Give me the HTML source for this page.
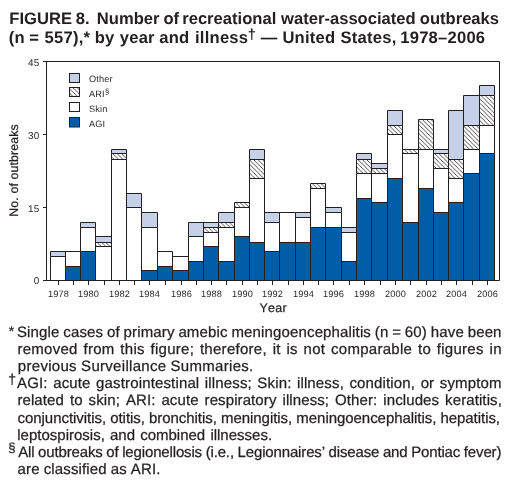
<!DOCTYPE html>
<html><head><meta charset="utf-8"><style>
html,body{margin:0;padding:0;background:#fff;}
body{width:514px;height:489px;overflow:hidden;}
svg{display:block;font-family:"Liberation Sans",sans-serif;font-kerning:none;will-change:transform;}
text{font-kerning:none;text-rendering:geometricPrecision;} .fn text{stroke:#231F20;stroke-width:0.25px;}
</style></head><body>
<svg width="514" height="489" viewBox="0 0 514 489">
<defs>
<pattern id="hatch" patternUnits="userSpaceOnUse" x="2.65" y="0" width="4.35" height="4.35">
<rect width="4.35" height="4.35" fill="#fff"/>
<path d="M-1,-1L5.35,5.35M-1,3.35L1,5.35M3.35,-1L5.35,1" stroke="#231F20" stroke-width="0.8"/>
</pattern>
</defs>
<rect width="514" height="489" fill="#fff"/>
<rect x="50.5" y="256.5" width="15.0" height="24.0" fill="#ffffff"/>
<rect x="50.5" y="251.5" width="15.0" height="5.0" fill="#C6D1E8"/>
<rect x="65.5" y="266.5" width="15.0" height="14.0" fill="#005EA8"/>
<rect x="65.5" y="251.5" width="15.0" height="15.0" fill="#ffffff"/>
<rect x="80.5" y="251.5" width="15.0" height="29.0" fill="#005EA8"/>
<rect x="80.5" y="227.5" width="15.0" height="24.0" fill="#ffffff"/>
<rect x="80.5" y="222.5" width="15.0" height="5.0" fill="#C6D1E8"/>
<rect x="95.5" y="246.5" width="16.0" height="34.0" fill="#ffffff"/>
<rect x="95.5" y="242.5" width="16.0" height="4.0" fill="url(#hatch)"/>
<rect x="95.5" y="236.5" width="16.0" height="6.0" fill="#C6D1E8"/>
<rect x="111.5" y="159.5" width="15.0" height="121.0" fill="#ffffff"/>
<rect x="111.5" y="153.5" width="15.0" height="6.0" fill="url(#hatch)"/>
<rect x="111.5" y="149.5" width="15.0" height="4.0" fill="#C6D1E8"/>
<rect x="126.5" y="207.5" width="15.0" height="73.0" fill="#ffffff"/>
<rect x="126.5" y="193.5" width="15.0" height="14.0" fill="#C6D1E8"/>
<rect x="141.5" y="270.5" width="16.0" height="10.0" fill="#005EA8"/>
<rect x="141.5" y="227.5" width="16.0" height="43.0" fill="#ffffff"/>
<rect x="141.5" y="212.5" width="16.0" height="15.0" fill="#C6D1E8"/>
<rect x="157.5" y="266.5" width="15.0" height="14.0" fill="#005EA8"/>
<rect x="157.5" y="251.5" width="15.0" height="15.0" fill="#ffffff"/>
<rect x="172.5" y="270.5" width="16.0" height="10.0" fill="#005EA8"/>
<rect x="172.5" y="256.5" width="16.0" height="14.0" fill="#ffffff"/>
<rect x="188.5" y="261.5" width="15.0" height="19.0" fill="#005EA8"/>
<rect x="188.5" y="236.5" width="15.0" height="25.0" fill="#ffffff"/>
<rect x="188.5" y="222.5" width="15.0" height="14.0" fill="#C6D1E8"/>
<rect x="203.5" y="246.5" width="15.0" height="34.0" fill="#005EA8"/>
<rect x="203.5" y="232.5" width="15.0" height="14.0" fill="#ffffff"/>
<rect x="203.5" y="227.5" width="15.0" height="5.0" fill="url(#hatch)"/>
<rect x="203.5" y="222.5" width="15.0" height="5.0" fill="#C6D1E8"/>
<rect x="218.5" y="261.5" width="16.0" height="19.0" fill="#005EA8"/>
<rect x="218.5" y="227.5" width="16.0" height="34.0" fill="#ffffff"/>
<rect x="218.5" y="222.5" width="16.0" height="5.0" fill="url(#hatch)"/>
<rect x="218.5" y="212.5" width="16.0" height="10.0" fill="#C6D1E8"/>
<rect x="234.5" y="236.5" width="15.0" height="44.0" fill="#005EA8"/>
<rect x="234.5" y="207.5" width="15.0" height="29.0" fill="#ffffff"/>
<rect x="234.5" y="202.5" width="15.0" height="5.0" fill="url(#hatch)"/>
<rect x="249.5" y="242.5" width="15.0" height="38.0" fill="#005EA8"/>
<rect x="249.5" y="178.5" width="15.0" height="64.0" fill="#ffffff"/>
<rect x="249.5" y="159.5" width="15.0" height="19.0" fill="url(#hatch)"/>
<rect x="249.5" y="149.5" width="15.0" height="10.0" fill="#C6D1E8"/>
<rect x="264.5" y="251.5" width="15.0" height="29.0" fill="#005EA8"/>
<rect x="264.5" y="222.5" width="15.0" height="29.0" fill="#ffffff"/>
<rect x="264.5" y="212.5" width="15.0" height="10.0" fill="#C6D1E8"/>
<rect x="279.5" y="242.5" width="16.0" height="38.0" fill="#005EA8"/>
<rect x="279.5" y="212.5" width="16.0" height="30.0" fill="#ffffff"/>
<rect x="295.5" y="242.5" width="15.0" height="38.0" fill="#005EA8"/>
<rect x="295.5" y="217.5" width="15.0" height="25.0" fill="#ffffff"/>
<rect x="295.5" y="212.5" width="15.0" height="5.0" fill="#C6D1E8"/>
<rect x="310.5" y="227.5" width="15.0" height="53.0" fill="#005EA8"/>
<rect x="310.5" y="188.5" width="15.0" height="39.0" fill="#ffffff"/>
<rect x="310.5" y="183.5" width="15.0" height="5.0" fill="url(#hatch)"/>
<rect x="325.5" y="227.5" width="16.0" height="53.0" fill="#005EA8"/>
<rect x="325.5" y="212.5" width="16.0" height="15.0" fill="#ffffff"/>
<rect x="325.5" y="207.5" width="16.0" height="5.0" fill="#C6D1E8"/>
<rect x="341.5" y="261.5" width="15.0" height="19.0" fill="#005EA8"/>
<rect x="341.5" y="232.5" width="15.0" height="29.0" fill="#ffffff"/>
<rect x="341.5" y="227.5" width="15.0" height="5.0" fill="#C6D1E8"/>
<rect x="356.5" y="198.5" width="15.0" height="82.0" fill="#005EA8"/>
<rect x="356.5" y="173.5" width="15.0" height="25.0" fill="#ffffff"/>
<rect x="356.5" y="159.5" width="15.0" height="14.0" fill="url(#hatch)"/>
<rect x="356.5" y="153.5" width="15.0" height="6.0" fill="#C6D1E8"/>
<rect x="371.5" y="202.5" width="16.0" height="78.0" fill="#005EA8"/>
<rect x="371.5" y="173.5" width="16.0" height="29.0" fill="#ffffff"/>
<rect x="371.5" y="168.5" width="16.0" height="5.0" fill="url(#hatch)"/>
<rect x="371.5" y="163.5" width="16.0" height="5.0" fill="#C6D1E8"/>
<rect x="387.5" y="178.5" width="15.0" height="102.0" fill="#005EA8"/>
<rect x="387.5" y="134.5" width="15.0" height="44.0" fill="#ffffff"/>
<rect x="387.5" y="125.5" width="15.0" height="9.0" fill="url(#hatch)"/>
<rect x="387.5" y="110.5" width="15.0" height="15.0" fill="#C6D1E8"/>
<rect x="402.5" y="222.5" width="16.0" height="58.0" fill="#005EA8"/>
<rect x="402.5" y="153.5" width="16.0" height="69.0" fill="#ffffff"/>
<rect x="402.5" y="149.5" width="16.0" height="4.0" fill="url(#hatch)"/>
<rect x="418.5" y="188.5" width="15.0" height="92.0" fill="#005EA8"/>
<rect x="418.5" y="149.5" width="15.0" height="39.0" fill="#ffffff"/>
<rect x="418.5" y="119.5" width="15.0" height="30.0" fill="url(#hatch)"/>
<rect x="433.5" y="212.5" width="15.0" height="68.0" fill="#005EA8"/>
<rect x="433.5" y="168.5" width="15.0" height="44.0" fill="#ffffff"/>
<rect x="433.5" y="153.5" width="15.0" height="15.0" fill="url(#hatch)"/>
<rect x="433.5" y="149.5" width="15.0" height="4.0" fill="#C6D1E8"/>
<rect x="448.5" y="202.5" width="15.0" height="78.0" fill="#005EA8"/>
<rect x="448.5" y="178.5" width="15.0" height="24.0" fill="#ffffff"/>
<rect x="448.5" y="159.5" width="15.0" height="19.0" fill="url(#hatch)"/>
<rect x="448.5" y="110.5" width="15.0" height="49.0" fill="#C6D1E8"/>
<rect x="463.5" y="173.5" width="16.0" height="107.0" fill="#005EA8"/>
<rect x="463.5" y="149.5" width="16.0" height="24.0" fill="#ffffff"/>
<rect x="463.5" y="125.5" width="16.0" height="24.0" fill="url(#hatch)"/>
<rect x="463.5" y="95.5" width="16.0" height="30.0" fill="#C6D1E8"/>
<rect x="479.5" y="153.5" width="15.0" height="127.0" fill="#005EA8"/>
<rect x="479.5" y="125.5" width="15.0" height="28.0" fill="#ffffff"/>
<rect x="479.5" y="95.5" width="15.0" height="30.0" fill="url(#hatch)"/>
<rect x="479.5" y="85.5" width="15.0" height="10.0" fill="#C6D1E8"/>
<g fill="none" stroke="#231F20" stroke-width="1"><path d="M50.5,280.5V256.5H65.5V280.5"/><path d="M50.5,256.5V251.5H65.5V256.5"/><path d="M65.5,280.5V266.5H80.5V280.5"/><path d="M65.5,266.5V251.5H80.5V266.5"/><path d="M80.5,280.5V251.5H95.5V280.5"/><path d="M80.5,251.5V227.5H95.5V251.5"/><path d="M80.5,227.5V222.5H95.5V227.5"/><path d="M95.5,280.5V246.5H111.5V280.5"/><path d="M95.5,246.5V242.5H111.5V246.5"/><path d="M95.5,242.5V236.5H111.5V242.5"/><path d="M111.5,280.5V159.5H126.5V280.5"/><path d="M111.5,159.5V153.5H126.5V159.5"/><path d="M111.5,153.5V149.5H126.5V153.5"/><path d="M126.5,280.5V207.5H141.5V280.5"/><path d="M126.5,207.5V193.5H141.5V207.5"/><path d="M141.5,280.5V270.5H157.5V280.5"/><path d="M141.5,270.5V227.5H157.5V270.5"/><path d="M141.5,227.5V212.5H157.5V227.5"/><path d="M157.5,280.5V266.5H172.5V280.5"/><path d="M157.5,266.5V251.5H172.5V266.5"/><path d="M172.5,280.5V270.5H188.5V280.5"/><path d="M172.5,270.5V256.5H188.5V270.5"/><path d="M188.5,280.5V261.5H203.5V280.5"/><path d="M188.5,261.5V236.5H203.5V261.5"/><path d="M188.5,236.5V222.5H203.5V236.5"/><path d="M203.5,280.5V246.5H218.5V280.5"/><path d="M203.5,246.5V232.5H218.5V246.5"/><path d="M203.5,232.5V227.5H218.5V232.5"/><path d="M203.5,227.5V222.5H218.5V227.5"/><path d="M218.5,280.5V261.5H234.5V280.5"/><path d="M218.5,261.5V227.5H234.5V261.5"/><path d="M218.5,227.5V222.5H234.5V227.5"/><path d="M218.5,222.5V212.5H234.5V222.5"/><path d="M234.5,280.5V236.5H249.5V280.5"/><path d="M234.5,236.5V207.5H249.5V236.5"/><path d="M234.5,207.5V202.5H249.5V207.5"/><path d="M249.5,280.5V242.5H264.5V280.5"/><path d="M249.5,242.5V178.5H264.5V242.5"/><path d="M249.5,178.5V159.5H264.5V178.5"/><path d="M249.5,159.5V149.5H264.5V159.5"/><path d="M264.5,280.5V251.5H279.5V280.5"/><path d="M264.5,251.5V222.5H279.5V251.5"/><path d="M264.5,222.5V212.5H279.5V222.5"/><path d="M279.5,280.5V242.5H295.5V280.5"/><path d="M279.5,242.5V212.5H295.5V242.5"/><path d="M295.5,280.5V242.5H310.5V280.5"/><path d="M295.5,242.5V217.5H310.5V242.5"/><path d="M295.5,217.5V212.5H310.5V217.5"/><path d="M310.5,280.5V227.5H325.5V280.5"/><path d="M310.5,227.5V188.5H325.5V227.5"/><path d="M310.5,188.5V183.5H325.5V188.5"/><path d="M325.5,280.5V227.5H341.5V280.5"/><path d="M325.5,227.5V212.5H341.5V227.5"/><path d="M325.5,212.5V207.5H341.5V212.5"/><path d="M341.5,280.5V261.5H356.5V280.5"/><path d="M341.5,261.5V232.5H356.5V261.5"/><path d="M341.5,232.5V227.5H356.5V232.5"/><path d="M356.5,280.5V198.5H371.5V280.5"/><path d="M356.5,198.5V173.5H371.5V198.5"/><path d="M356.5,173.5V159.5H371.5V173.5"/><path d="M356.5,159.5V153.5H371.5V159.5"/><path d="M371.5,280.5V202.5H387.5V280.5"/><path d="M371.5,202.5V173.5H387.5V202.5"/><path d="M371.5,173.5V168.5H387.5V173.5"/><path d="M371.5,168.5V163.5H387.5V168.5"/><path d="M387.5,280.5V178.5H402.5V280.5"/><path d="M387.5,178.5V134.5H402.5V178.5"/><path d="M387.5,134.5V125.5H402.5V134.5"/><path d="M387.5,125.5V110.5H402.5V125.5"/><path d="M402.5,280.5V222.5H418.5V280.5"/><path d="M402.5,222.5V153.5H418.5V222.5"/><path d="M402.5,153.5V149.5H418.5V153.5"/><path d="M418.5,280.5V188.5H433.5V280.5"/><path d="M418.5,188.5V149.5H433.5V188.5"/><path d="M418.5,149.5V119.5H433.5V149.5"/><path d="M433.5,280.5V212.5H448.5V280.5"/><path d="M433.5,212.5V168.5H448.5V212.5"/><path d="M433.5,168.5V153.5H448.5V168.5"/><path d="M433.5,153.5V149.5H448.5V153.5"/><path d="M448.5,280.5V202.5H463.5V280.5"/><path d="M448.5,202.5V178.5H463.5V202.5"/><path d="M448.5,178.5V159.5H463.5V178.5"/><path d="M448.5,159.5V110.5H463.5V159.5"/><path d="M463.5,280.5V173.5H479.5V280.5"/><path d="M463.5,173.5V149.5H479.5V173.5"/><path d="M463.5,149.5V125.5H479.5V149.5"/><path d="M463.5,125.5V95.5H479.5V125.5"/><path d="M479.5,280.5V153.5H494.5V280.5"/><path d="M479.5,153.5V125.5H494.5V153.5"/><path d="M479.5,125.5V95.5H494.5V125.5"/><path d="M479.5,95.5V85.5H494.5V95.5"/></g>
<g fill="none" stroke="#231F20" stroke-width="1"><path d="M46.5,61.5H499.5V280.5H43"/><path d="M46.5,61V281"/><path d="M58.5,280.5V285"/><path d="M73.5,280.5V285"/><path d="M88.5,280.5V285"/><path d="M104.5,280.5V285"/><path d="M119.5,280.5V285"/><path d="M134.5,280.5V285"/><path d="M149.5,280.5V285"/><path d="M165.5,280.5V285"/><path d="M181.5,280.5V285"/><path d="M196.5,280.5V285"/><path d="M211.5,280.5V285"/><path d="M226.5,280.5V285"/><path d="M242.5,280.5V285"/><path d="M257.5,280.5V285"/><path d="M272.5,280.5V285"/><path d="M288.5,280.5V285"/><path d="M303.5,280.5V285"/><path d="M318.5,280.5V285"/><path d="M333.5,280.5V285"/><path d="M349.5,280.5V285"/><path d="M364.5,280.5V285"/><path d="M380.5,280.5V285"/><path d="M395.5,280.5V285"/><path d="M410.5,280.5V285"/><path d="M426.5,280.5V285"/><path d="M441.5,280.5V285"/><path d="M456.5,280.5V285"/><path d="M472.5,280.5V285"/><path d="M487.5,280.5V285"/><path d="M43,207.5H46.5"/><path d="M43,134.5H46.5"/><path d="M43,61.5H46.5"/></g>
<text x="58.60" y="296.90" style="font-size:9.2px;letter-spacing:0.15px;" text-anchor="middle" fill="#231F20">1978</text>
<text x="88.60" y="296.90" style="font-size:9.2px;letter-spacing:0.15px;" text-anchor="middle" fill="#231F20">1980</text>
<text x="119.60" y="296.90" style="font-size:9.2px;letter-spacing:0.15px;" text-anchor="middle" fill="#231F20">1982</text>
<text x="149.60" y="296.90" style="font-size:9.2px;letter-spacing:0.15px;" text-anchor="middle" fill="#231F20">1984</text>
<text x="181.60" y="296.90" style="font-size:9.2px;letter-spacing:0.15px;" text-anchor="middle" fill="#231F20">1986</text>
<text x="211.60" y="296.90" style="font-size:9.2px;letter-spacing:0.15px;" text-anchor="middle" fill="#231F20">1988</text>
<text x="242.60" y="296.90" style="font-size:9.2px;letter-spacing:0.15px;" text-anchor="middle" fill="#231F20">1990</text>
<text x="272.60" y="296.90" style="font-size:9.2px;letter-spacing:0.15px;" text-anchor="middle" fill="#231F20">1992</text>
<text x="303.60" y="296.90" style="font-size:9.2px;letter-spacing:0.15px;" text-anchor="middle" fill="#231F20">1994</text>
<text x="333.60" y="296.90" style="font-size:9.2px;letter-spacing:0.15px;" text-anchor="middle" fill="#231F20">1996</text>
<text x="364.60" y="296.90" style="font-size:9.2px;letter-spacing:0.15px;" text-anchor="middle" fill="#231F20">1998</text>
<text x="395.60" y="296.90" style="font-size:9.2px;letter-spacing:0.15px;" text-anchor="middle" fill="#231F20">2000</text>
<text x="426.60" y="296.90" style="font-size:9.2px;letter-spacing:0.15px;" text-anchor="middle" fill="#231F20">2002</text>
<text x="456.60" y="296.90" style="font-size:9.2px;letter-spacing:0.15px;" text-anchor="middle" fill="#231F20">2004</text>
<text x="487.60" y="296.90" style="font-size:9.2px;letter-spacing:0.15px;" text-anchor="middle" fill="#231F20">2006</text>
<text x="39.60" y="283.60" style="font-size:9.9px;letter-spacing:0.3px;" text-anchor="end" fill="#231F20">0</text>
<text x="39.60" y="211.60" style="font-size:9.9px;letter-spacing:0.3px;" text-anchor="end" fill="#231F20">15</text>
<text x="39.60" y="138.60" style="font-size:9.9px;letter-spacing:0.3px;" text-anchor="end" fill="#231F20">30</text>
<text x="39.60" y="65.60" style="font-size:9.9px;letter-spacing:0.3px;" text-anchor="end" fill="#231F20">45</text>
<g class="fn"><text x="273.30" y="311.80" style="font-size:12.4px;letter-spacing:0.35px;" text-anchor="middle" fill="#231F20">Year</text><text transform="translate(18.3,170.4) rotate(-90)" text-anchor="middle" style="font-size:12.3px;letter-spacing:0.15px" fill="#231F20">No. of outbreaks</text></g>
<g stroke="#231F20" stroke-width="1">
<rect x="69.5" y="73.5" width="10" height="9" fill="#C6D1E8"/>
<rect x="69.5" y="87.5" width="10" height="9" fill="url(#hatch)"/>
<rect x="69.5" y="102.5" width="10" height="9" fill="#fff"/>
<rect x="69.5" y="117.5" width="10" height="9.5" fill="#005EA8"/>
</g>
<text x="89.00" y="82.40" style="font-size:9.2px;letter-spacing:0.15px;" fill="#231F20">Other</text>
<text x="89" y="97.2" style="font-size:9.2px;letter-spacing:0.15px" fill="#231F20">ARI<tspan dx="0.3" dy="-3.6" style="font-size:7.5px">§</tspan></text>
<text x="89.00" y="111.90" style="font-size:9.2px;letter-spacing:0.15px;" fill="#231F20">Skin</text>
<text x="89.00" y="126.70" style="font-size:9.2px;letter-spacing:0.15px;" fill="#231F20">AGI</text>
<g class="tl"><text x="9.29" y="23.80" style="font-size:16.6px;font-weight:bold;" fill="#231F20">FIGURE</text><text x="75.77" y="23.80" style="font-size:16.6px;font-weight:bold;" fill="#231F20">8.</text><text x="96.79" y="23.80" style="font-size:16.6px;font-weight:bold;" fill="#231F20">Number</text><text x="163.45" y="23.80" style="font-size:16.6px;font-weight:bold;" fill="#231F20">of</text><text x="182.21" y="23.80" style="font-size:16.6px;font-weight:bold;" fill="#231F20">recreational</text><text x="281.05" y="23.80" style="font-size:16.6px;font-weight:bold;" fill="#231F20">water-associated</text><text x="419.75" y="23.80" style="font-size:16.6px;font-weight:bold;" fill="#231F20">outbreaks</text><text x="8.87" y="42.70" style="font-size:16.6px;font-weight:bold;letter-spacing:0.22px;" fill="#231F20">(n</text><text x="29.31" y="42.70" style="font-size:16.6px;font-weight:bold;letter-spacing:0.22px;" fill="#231F20">=</text><text x="44.59" y="42.70" style="font-size:16.6px;font-weight:bold;letter-spacing:0.22px;" fill="#231F20">557),*</text><text x="94.71" y="42.70" style="font-size:16.6px;font-weight:bold;letter-spacing:0.22px;" fill="#231F20">by</text><text x="119.77" y="42.70" style="font-size:16.6px;font-weight:bold;letter-spacing:0.22px;" fill="#231F20">year</text><text x="159.31" y="42.70" style="font-size:16.6px;font-weight:bold;letter-spacing:0.22px;" fill="#231F20">and</text><text x="195.04" y="42.70" style="font-size:16.6px;font-weight:bold;letter-spacing:0.22px;" fill="#231F20">illness</text><text x="260.80" y="42.70" style="font-size:16.6px;font-weight:bold;letter-spacing:0.22px;" fill="#231F20">—</text><text x="282.40" y="42.70" style="font-size:16.6px;font-weight:bold;letter-spacing:0.22px;" fill="#231F20">United</text><text x="340.52" y="42.70" style="font-size:16.6px;font-weight:bold;letter-spacing:0.22px;" fill="#231F20">States,</text><text x="400.25" y="42.70" style="font-size:16.6px;font-weight:bold;letter-spacing:0.22px;" fill="#231F20">1978–2006</text><text x="247.70" y="38.80" style="font-size:14.5px;font-weight:bold;" fill="#231F20">†</text></g>
<g class="fn"><text x="16.92" y="336.80" style="font-size:15.0px;letter-spacing:0.15px;" fill="#231F20">Single</text><text x="63.28" y="336.80" style="font-size:15.0px;letter-spacing:0.15px;" fill="#231F20">cases</text><text x="106.99" y="336.80" style="font-size:15.0px;letter-spacing:0.15px;" fill="#231F20">of</text><text x="123.56" y="336.80" style="font-size:15.0px;letter-spacing:0.15px;" fill="#231F20">primary</text><text x="178.38" y="336.80" style="font-size:15.0px;letter-spacing:0.15px;" fill="#231F20">amebic</text><text x="231.41" y="336.80" style="font-size:15.0px;letter-spacing:0.15px;" fill="#231F20">meningoencephalitis</text><text x="374.78" y="336.80" style="font-size:15.0px;letter-spacing:0.15px;" fill="#231F20">(n</text><text x="392.19" y="336.80" style="font-size:15.0px;letter-spacing:0.15px;" fill="#231F20">=</text><text x="404.86" y="336.80" style="font-size:15.0px;letter-spacing:0.15px;" fill="#231F20">60)</text><text x="430.76" y="336.80" style="font-size:15.0px;letter-spacing:0.15px;" fill="#231F20">have</text><text x="467.65" y="336.80" style="font-size:15.0px;letter-spacing:0.15px;" fill="#231F20">been</text><text x="17.40" y="353.80" style="font-size:15.0px;letter-spacing:0.28px;" fill="#231F20">removed</text><text x="83.47" y="353.80" style="font-size:15.0px;letter-spacing:0.28px;" fill="#231F20">from</text><text x="120.33" y="353.80" style="font-size:15.0px;letter-spacing:0.28px;" fill="#231F20">this</text><text x="150.54" y="353.80" style="font-size:15.0px;letter-spacing:0.28px;" fill="#231F20">figure;</text><text x="199.93" y="353.80" style="font-size:15.0px;letter-spacing:0.28px;" fill="#231F20">therefore,</text><text x="272.68" y="353.80" style="font-size:15.0px;letter-spacing:0.28px;" fill="#231F20">it</text><text x="286.48" y="353.80" style="font-size:15.0px;letter-spacing:0.28px;" fill="#231F20">is</text><text x="303.62" y="353.80" style="font-size:15.0px;letter-spacing:0.28px;" fill="#231F20">not</text><text x="331.06" y="353.80" style="font-size:15.0px;letter-spacing:0.28px;" fill="#231F20">comparable</text><text x="417.98" y="353.80" style="font-size:15.0px;letter-spacing:0.28px;" fill="#231F20">to</text><text x="436.79" y="353.80" style="font-size:15.0px;letter-spacing:0.28px;" fill="#231F20">figures</text><text x="489.52" y="353.80" style="font-size:15.0px;letter-spacing:0.28px;" fill="#231F20">in</text><text x="17.83" y="370.80" style="font-size:15.0px;letter-spacing:0.3px;" fill="#231F20">previous</text><text x="81.09" y="370.80" style="font-size:15.0px;letter-spacing:0.3px;" fill="#231F20">Surveillance</text><text x="170.55" y="370.80" style="font-size:15.0px;letter-spacing:0.3px;" fill="#231F20">Summaries.</text><text x="17.07" y="387.80" style="font-size:15.0px;letter-spacing:0.15px;" fill="#231F20">AGI:</text><text x="53.15" y="387.80" style="font-size:15.0px;letter-spacing:0.15px;" fill="#231F20">acute</text><text x="96.07" y="387.80" style="font-size:15.0px;letter-spacing:0.15px;" fill="#231F20">gastrointestinal</text><text x="204.83" y="387.80" style="font-size:15.0px;letter-spacing:0.15px;" fill="#231F20">illness;</text><text x="257.36" y="387.80" style="font-size:15.0px;letter-spacing:0.15px;" fill="#231F20">Skin:</text><text x="296.93" y="387.80" style="font-size:15.0px;letter-spacing:0.15px;" fill="#231F20">illness,</text><text x="349.45" y="387.80" style="font-size:15.0px;letter-spacing:0.15px;" fill="#231F20">condition,</text><text x="420.64" y="387.80" style="font-size:15.0px;letter-spacing:0.15px;" fill="#231F20">or</text><text x="439.75" y="387.80" style="font-size:15.0px;letter-spacing:0.15px;" fill="#231F20">symptom</text><text x="17.40" y="404.80" style="font-size:15.0px;letter-spacing:0.1px;" fill="#231F20">related</text><text x="69.92" y="404.80" style="font-size:15.0px;letter-spacing:0.1px;" fill="#231F20">to</text><text x="88.59" y="404.80" style="font-size:15.0px;letter-spacing:0.1px;" fill="#231F20">skin;</text><text x="125.88" y="404.80" style="font-size:15.0px;letter-spacing:0.1px;" fill="#231F20">ARI:</text><text x="161.41" y="404.80" style="font-size:15.0px;letter-spacing:0.1px;" fill="#231F20">acute</text><text x="204.56" y="404.80" style="font-size:15.0px;letter-spacing:0.1px;" fill="#231F20">respiratory</text><text x="282.47" y="404.80" style="font-size:15.0px;letter-spacing:0.1px;" fill="#231F20">illness;</text><text x="335.07" y="404.80" style="font-size:15.0px;letter-spacing:0.1px;" fill="#231F20">Other:</text><text x="383.31" y="404.80" style="font-size:15.0px;letter-spacing:0.1px;" fill="#231F20">includes</text><text x="445.10" y="404.80" style="font-size:15.0px;letter-spacing:0.1px;" fill="#231F20">keratitis,</text><text x="17.56" y="422.80" style="font-size:15.0px;letter-spacing:-0.05px;" fill="#231F20">conjunctivitis,</text><text x="110.19" y="422.80" style="font-size:15.0px;letter-spacing:-0.05px;" fill="#231F20">otitis,</text><text x="149.03" y="422.80" style="font-size:15.0px;letter-spacing:-0.05px;" fill="#231F20">bronchitis,</text><text x="221.03" y="422.80" style="font-size:15.0px;letter-spacing:-0.05px;" fill="#231F20">meningitis,</text><text x="296.36" y="422.80" style="font-size:15.0px;letter-spacing:-0.05px;" fill="#231F20">meningoencephalitis,</text><text x="440.46" y="422.80" style="font-size:15.0px;letter-spacing:-0.05px;" fill="#231F20">hepatitis,</text><text x="17.29" y="439.80" style="font-size:15.0px;" fill="#231F20">leptospirosis,</text><text x="109.99" y="439.80" style="font-size:15.0px;" fill="#231F20">and</text><text x="140.18" y="439.80" style="font-size:15.0px;" fill="#231F20">combined</text><text x="210.38" y="439.80" style="font-size:15.0px;" fill="#231F20">illnesses.</text><text x="18.17" y="456.80" style="font-size:15.0px;letter-spacing:-0.15px;" fill="#231F20">All</text><text x="38.08" y="456.80" style="font-size:15.0px;letter-spacing:-0.15px;" fill="#231F20">outbreaks</text><text x="106.29" y="456.80" style="font-size:15.0px;letter-spacing:-0.15px;" fill="#231F20">of</text><text x="122.19" y="456.80" style="font-size:15.0px;letter-spacing:-0.15px;" fill="#231F20">legionellosis</text><text x="205.64" y="456.80" style="font-size:15.0px;letter-spacing:-0.15px;" fill="#231F20">(i.e.,</text><text x="237.60" y="456.80" style="font-size:15.0px;letter-spacing:-0.15px;" fill="#231F20">Legionnaires’</text><text x="328.57" y="456.80" style="font-size:15.0px;letter-spacing:-0.15px;" fill="#231F20">disease</text><text x="382.91" y="456.80" style="font-size:15.0px;letter-spacing:-0.15px;" fill="#231F20">and</text><text x="411.17" y="456.80" style="font-size:15.0px;letter-spacing:-0.15px;" fill="#231F20">Pontiac</text><text x="463.84" y="456.80" style="font-size:15.0px;letter-spacing:-0.15px;" fill="#231F20">fever)</text><text x="17.56" y="473.80" style="font-size:15.0px;letter-spacing:0.15px;" fill="#231F20">are</text><text x="43.63" y="473.80" style="font-size:15.0px;letter-spacing:0.15px;" fill="#231F20">classified</text><text x="110.76" y="473.80" style="font-size:15.0px;letter-spacing:0.15px;" fill="#231F20">as</text><text x="130.85" y="473.80" style="font-size:15.0px;letter-spacing:0.15px;" fill="#231F20">ARI.</text><text x="8.67" y="335.50" style="font-size:14px;" fill="#231F20">*</text><text x="8.16" y="384.00" style="font-size:14px;" fill="#231F20">†</text><text x="8.36" y="451.80" style="font-size:13.1px;" fill="#231F20">§</text></g>
</svg>
</body></html>
